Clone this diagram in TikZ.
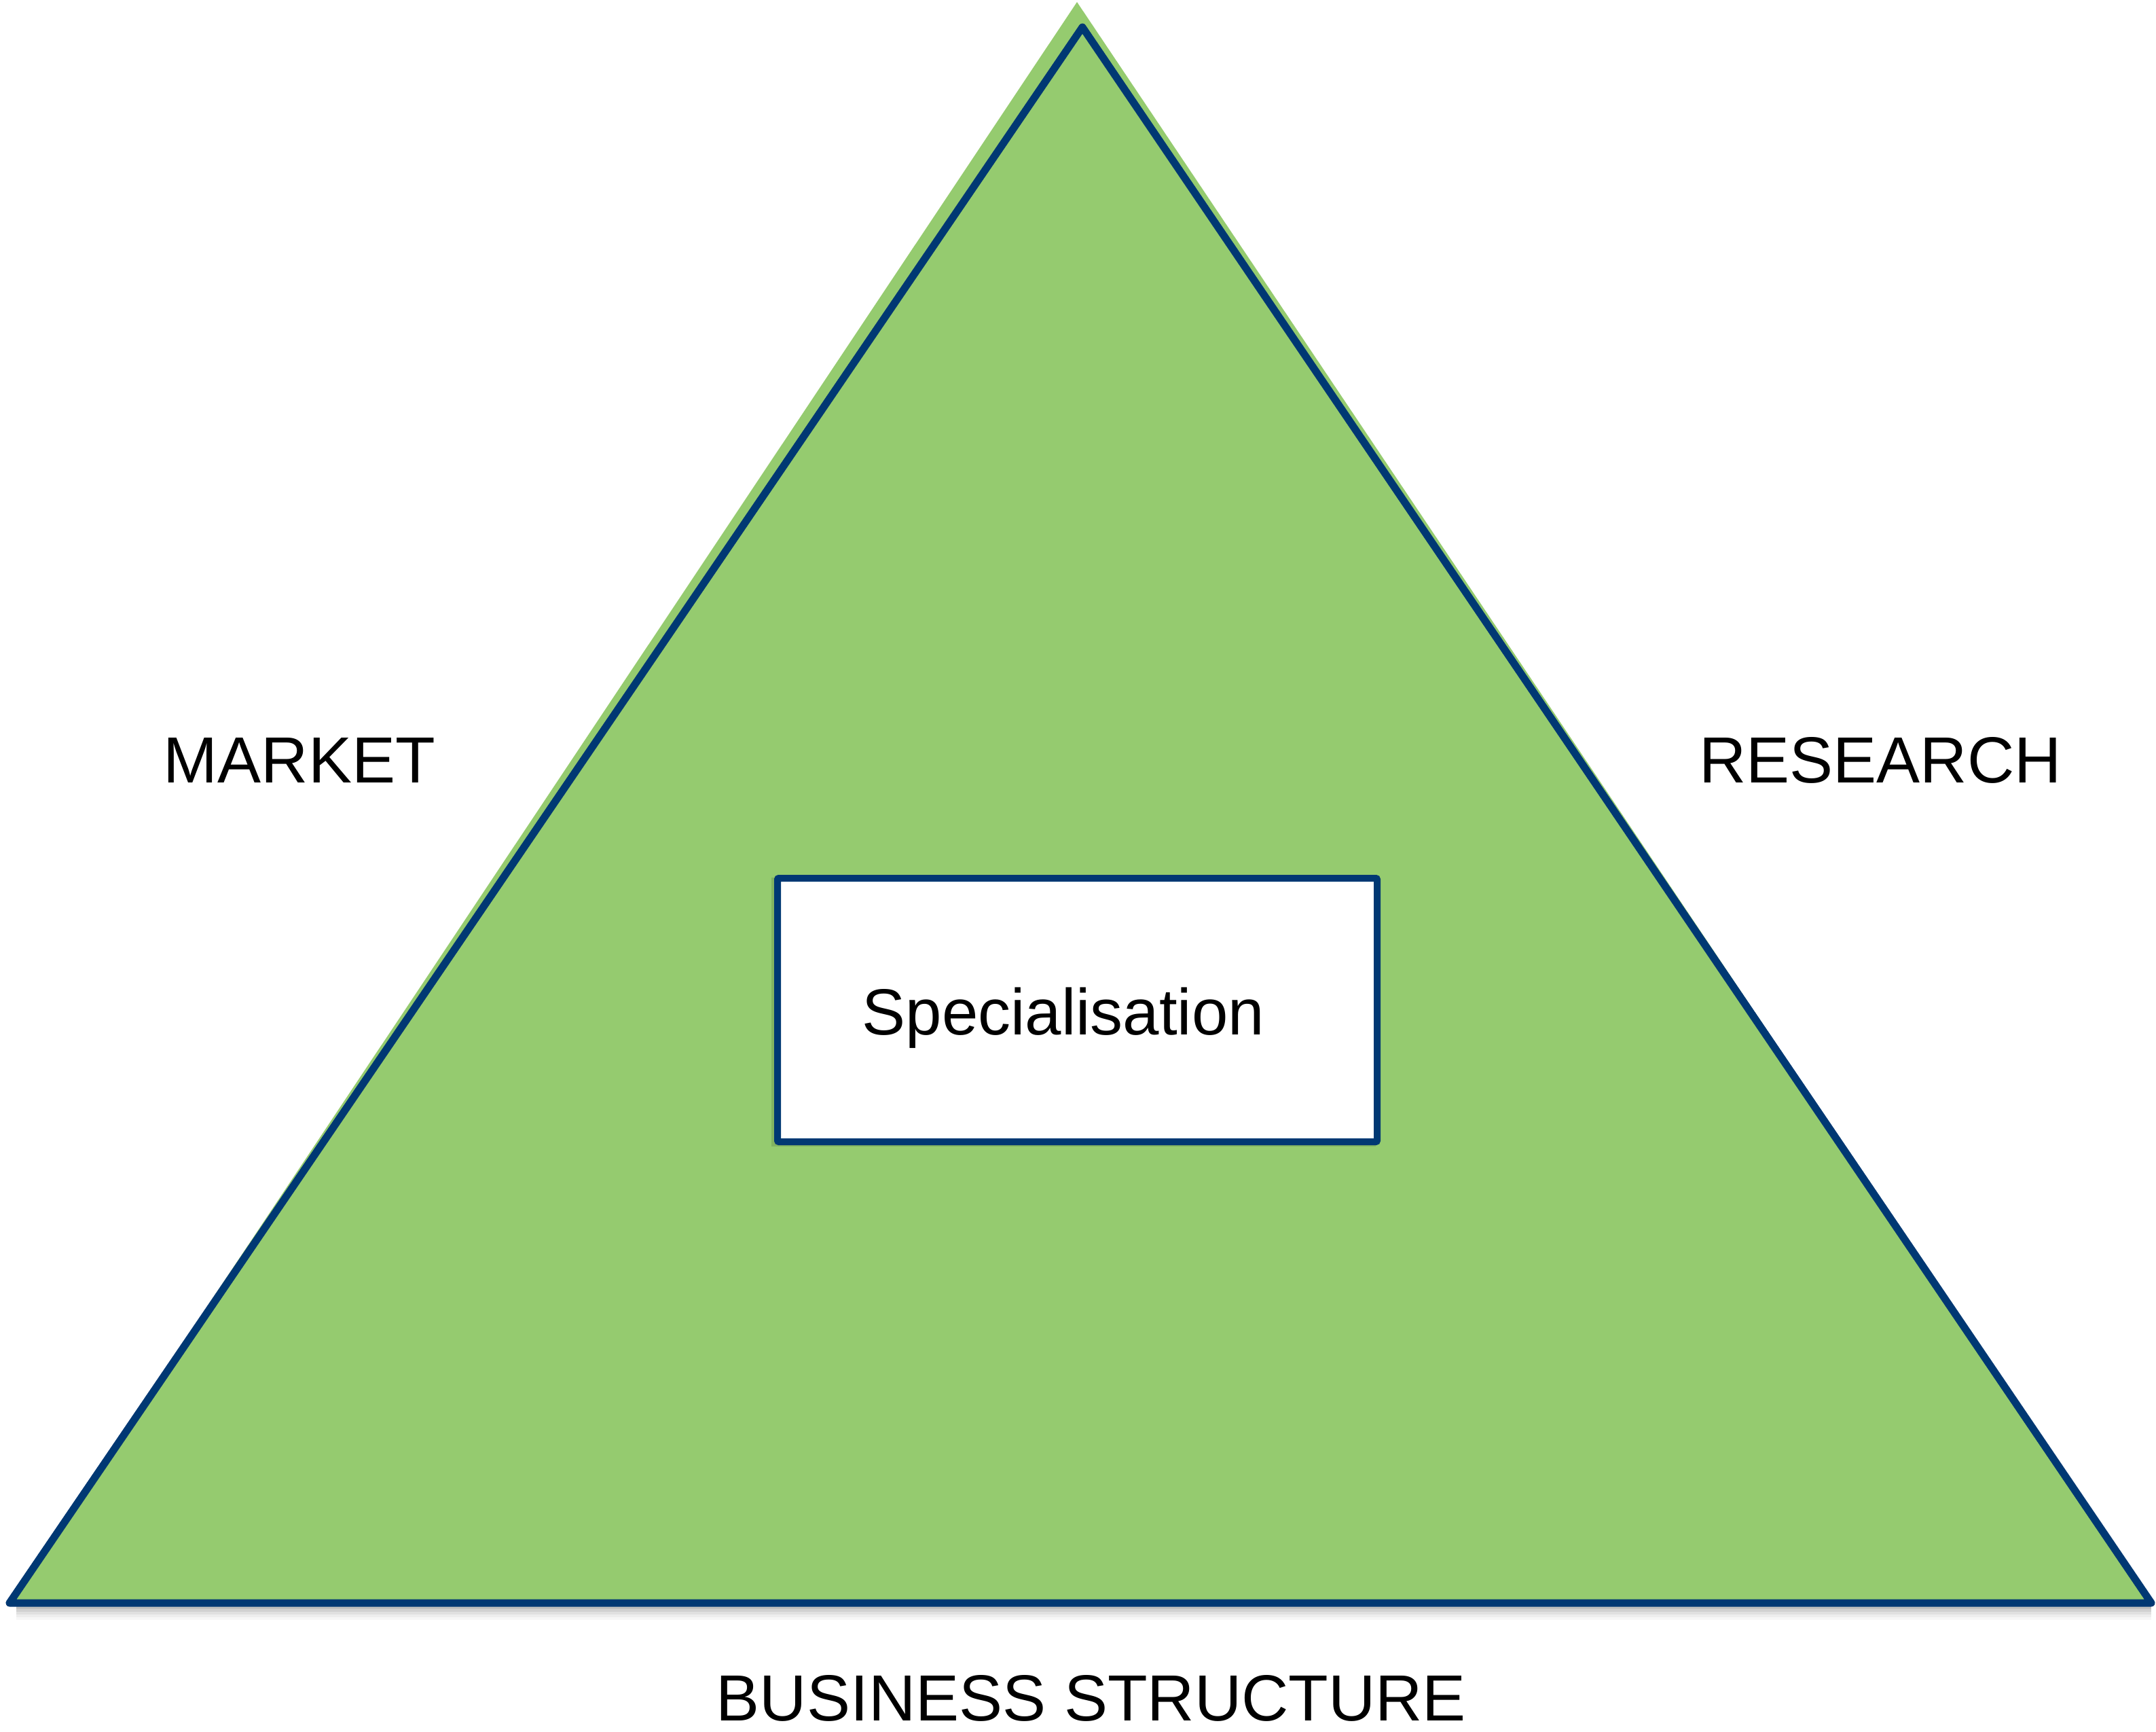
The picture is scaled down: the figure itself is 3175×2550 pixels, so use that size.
\documentclass[tikz,border=0pt]{standalone}
\usepackage{fontspec}
\setmainfont{Liberation Sans}
\definecolor{trigreen}{RGB}{149,203,111}
\definecolor{navy}{RGB}{0,56,115}
\begin{document}
\begin{tikzpicture}[x=1pt,y=-1pt,
  outline/.style={draw=navy,line width=11pt,line join=round,line cap=round},
  label/.style={font=\fontsize{96}{115}\selectfont,anchor=base,inner sep=0pt,text=black},
  boxstyle/.style={draw=navy,line width=10pt,fill=white,minimum width=883pt,minimum height=388pt,inner sep=0pt,rounded corners=2pt}]
\path[use as bounding box] (0,0) rectangle (3175,2550);
% soft shadow below the base
\foreach \d/\o in {7/0.25,11/0.18,15/0.12,19/0.07,23/0.03}{
  \draw[line width=4pt,black,opacity=\o] (24,2360+\d) -- (3168,2360+\d);
}
% green fill
\coordinate (L) at (14,2360);
\coordinate (R) at (3168,2360);
\coordinate (T) at (1594,40);
\coordinate (Tf) at (1586,3);
\fill[trigreen] (L) -- (Tf) -- (R) -- cycle;
\draw[outline] (L) -- (T) -- (R) -- cycle;
% box shadow
\fill[black,opacity=0.12] (1136,1292) rectangle (2026,1688);
\node[boxstyle] (box) at (1586.5,1487) {};
\node[label] (spec) at (1566,1523) {Specialisation};
\node[label] (market) at (441,1152) {MARKET};
\node[label] (research) at (2769,1152) {RESEARCH};
\node[label] (business) at (1607,2533) {BUSINESS STRUCTURE};
\end{tikzpicture}
\end{document}
